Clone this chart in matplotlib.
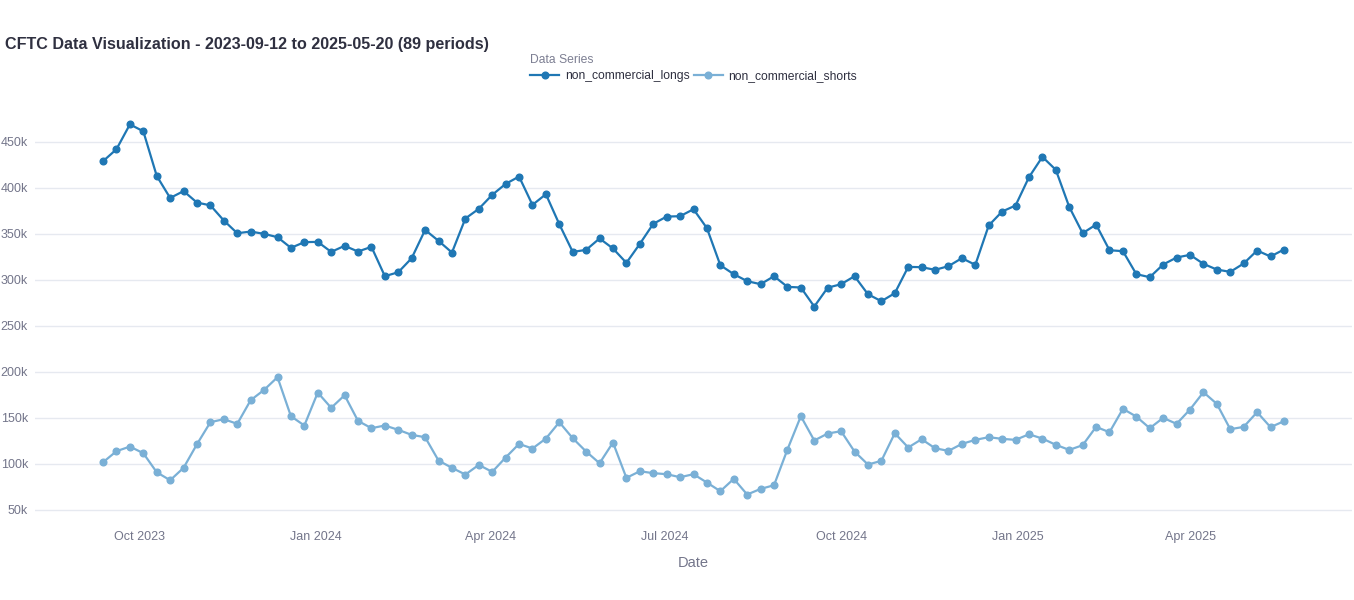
import numpy as np
import pandas as pd
import matplotlib
matplotlib.use('Agg')
import matplotlib.pyplot as plt
import matplotlib.dates as mdates
from matplotlib.ticker import FuncFormatter

plt.rcParams['font.family'] = ['Liberation Sans', 'DejaVu Sans']

# weekly report dates, 89 periods
start_date = '2023-09-12'
n_periods = 89

non_commercial_longs = [
    429000, 442000, 469000, 461500, 413000, 389000, 396500, 384000, 381000, 364500,
    350700, 352500, 350000, 346400, 334800, 341000, 341300, 330400, 337000, 330800,
    335900, 304000, 308300, 323600, 354300, 342400, 329700, 366700, 377200, 392400,
    404300, 412300, 381500, 393100, 360500, 330400, 332600, 345000, 334100, 318500,
    339100, 360900, 368800, 369200, 376800, 356200, 315900, 306200, 298600, 295300,
    304000, 292400, 291700, 271000, 291500, 295300, 304000, 284400, 276800, 285500,
    314100, 313800, 310900, 314900, 323600, 316300, 359100, 374300, 380800, 411600,
    433700, 419600, 379300, 350700, 360100, 332200, 331200, 306200, 302900, 316700,
    324300, 327200, 317400, 311200, 308700, 317800, 331900, 325400, 333000,
]

non_commercial_shorts = [
    101800, 113800, 118800, 111600, 90900, 82200, 95700, 121400, 145300, 148600,
    143500, 169200, 180400, 194200, 151800, 141700, 177500, 160900, 174600, 146700,
    138800, 141700, 137000, 131500, 129000, 103600, 95700, 88400, 98900, 91300,
    106900, 121700, 116700, 127500, 145300, 127900, 113400, 100700, 123200, 84800,
    92000, 89900, 88800, 85500, 88800, 79700, 70300, 83700, 66700, 72800,
    76800, 115600, 151800, 125400, 133000, 135500, 113400, 99300, 103300, 133300,
    117800, 126800, 117000, 114100, 121700, 126100, 129000, 127200, 126100, 132200,
    127500, 120700, 115200, 120300, 140200, 134400, 159800, 151400, 138800, 150000,
    143500, 159100, 177900, 165200, 137700, 140200, 156200, 139900, 146400,
]

series_names = ['non_commercial_longs', 'non_commercial_shorts']
series_colors = ['#1f77b4', '#7ab0d6']

dates = pd.date_range(start_date, periods=n_periods, freq='7D')

fig = plt.figure(figsize=(13.54, 6.0), dpi=100)
ax = fig.add_axes([35 / 1354, 80 / 600, 1317 / 1354, 420 / 600])

for name, values, color in zip(series_names, [non_commercial_longs, non_commercial_shorts], series_colors):
    ax.plot(dates, values, color=color, linewidth=1.6, marker='o', markersize=4.8, label=name)

# axes styling (plotly-like)
ax.set_xlim(dates[0] - pd.Timedelta(days=35.5), dates[-1] + pd.Timedelta(days=35.5))
ax.set_ylim(39000, 495500)
ax.set_yticks(np.arange(50000, 450001, 50000))
ax.yaxis.set_major_formatter(FuncFormatter(lambda v, _: f'{int(v / 1000)}k'))
ax.xaxis.set_major_locator(mdates.MonthLocator(bymonth=[1, 4, 7, 10]))
ax.xaxis.set_major_formatter(mdates.DateFormatter('%b %Y'))

ax.grid(axis='y', color='#e6e9f0', linewidth=1)
ax.grid(axis='x', visible=False)
ax.set_axisbelow(True)
for spine in ax.spines.values():
    spine.set_visible(False)
ax.tick_params(axis='both', length=0, colors='#73758a', labelsize=9)
ax.tick_params(axis='y', pad=5)
ax.tick_params(axis='x', pad=8)

ax.set_xlabel('Date', fontsize=10.5, color='#73758a', labelpad=9)

fig.text(5 / 1354, 1 - 44 / 600, 'CFTC Data Visualization - 2023-09-12 to 2025-05-20 (89 periods)',
         fontsize=11.6, fontweight='bold', color='#2f3040', va='center', ha='left')

leg = fig.legend(loc='upper left', bbox_to_anchor=(522 / 1354, 1 - 46 / 600), ncol=2,
                 title='Data Series', frameon=False, fontsize=8.7, title_fontsize=8.7,
                 handlelength=2.4, handletextpad=0.45, columnspacing=0.35,
                 borderpad=0.2, labelspacing=0.3)
leg._legend_box.align = 'left'
leg.get_title().set_color('#7c7e92')
for txt in leg.get_texts():
    txt.set_color('#2f3040')

fig.savefig('out.png', dpi=100)
